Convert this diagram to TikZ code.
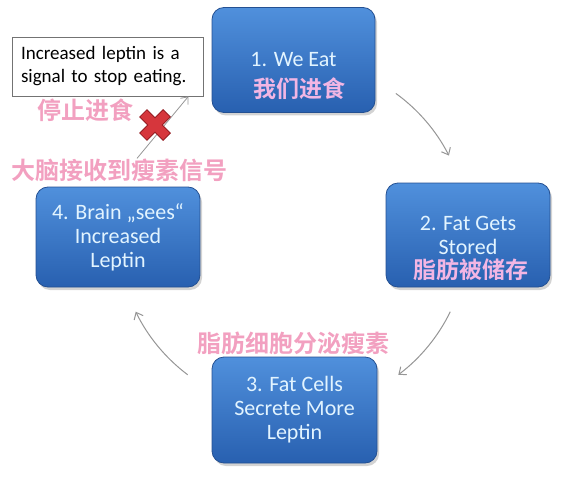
\documentclass[tikz,border=0pt]{standalone}
\usepackage{fontspec}
\setmainfont{Carlito}
\newfontfamily\cjk{Noto Sans CJK SC}[BoldFont={* Bold}]
\usetikzlibrary{arrows.meta,shadows}

\definecolor{boxtop}{RGB}{80,144,220}
\definecolor{boxbot}{RGB}{40,96,176}
\definecolor{boxedge}{RGB}{36,80,146}
\definecolor{boxtext}{RGB}{226,244,255}
\definecolor{boxpink}{RGB}{242,182,228}
\definecolor{cnpink}{RGB}{242,160,192}
\definecolor{linegray}{RGB}{150,150,150}
\definecolor{crossred}{RGB}{214,54,60}
\definecolor{crossedge}{RGB}{150,30,36}

\begin{document}
\begin{tikzpicture}[x=1pt, y=1pt,
    block/.style={rectangle, rounded corners=12pt, draw=boxedge, line width=0.8pt,
        top color=boxtop, bottom color=boxbot, text=boxtext, align=center,
        font=\fontsize{22}{24}\selectfont, inner sep=0pt,
        drop shadow={opacity=0.35, shadow xshift=2pt, shadow yshift=-3pt}},
    cnbox/.style={font=\cjk\bfseries\fontsize{23}{26}\selectfont, text=boxpink, inner sep=0pt},
    cnlabel/.style={font=\cjk\bfseries\fontsize{24}{26}\selectfont, text=cnpink, inner sep=0pt},
    notebox/.style={rectangle, draw=black!55, line width=0.8pt, fill=white, align=left,
        text width=173pt, inner xsep=9pt, minimum height=59pt,
        font=\fontsize{19}{23}\selectfont},
    cyc/.style={-{Straight Barb[length=6pt,width=10pt]}, draw=linegray, line width=1pt}
]
\useasboundingbox (0,0) rectangle (577,480);

% Ciclo
\coordinate (hub) at (293,245);
\node[block, minimum width=163pt, minimum height=105pt] (eat) at (293.5,420) {1. We Eat};
\node[block, minimum width=164pt, minimum height=104pt] (stored) at (468,245) {2. Fat Gets\\Stored};
\node[block, minimum width=165pt, minimum height=106pt] (secrete) at (294.5,70) {3. Fat Cells\\Secrete More\\Leptin};
\node[block, minimum width=164pt, minimum height=100pt] (brain) at (118,243) {4. Brain „sees“\\Increased\\Leptin};

% Chino
\node[cnbox] (eatcn) at (299,391) {我们进食};
\node[cnbox] (storedcn) at (471,210) {脂肪被储存};
\node[cnlabel] (secretecn) at (293,137) {脂肪细胞分泌瘦素};
\node[cnlabel] (signal) at (119,310) {大脑接收到瘦素信号};
\node[cnlabel] (stopcn) at (85,370) {停止进食};

% Nota
\node[notebox] (note) at (107.5,413.5) {Increased leptin is a\\signal to stop eating.};

% Flechas
\draw[cyc] ([shift={(54:175)}]hub) arc[start angle=54, end angle=27, radius=175];
\draw[cyc] ([shift={(-26:175)}]hub) arc[start angle=-26, end angle=-53, radius=175];
\draw[cyc] ([shift={(-127:175)}]hub) arc[start angle=-127, end angle=-154, radius=175];
\draw[cyc, line width=0.8pt] ([xshift=18pt]signal.north) -- ([xshift=-15pt]note.south east);

% Cruz
\coordinate (stop) at (155,355);
\foreach \w/\c/\d in {11/crossedge/12, 9/crossred/11.3} {
  \draw[line width=\w pt, \c] ([shift={(-\d,-\d)}]stop) -- ([shift={(\d,\d)}]stop)
      ([shift={(-\d,\d)}]stop) -- ([shift={(\d,-\d)}]stop);
}
\end{tikzpicture}
\end{document}
